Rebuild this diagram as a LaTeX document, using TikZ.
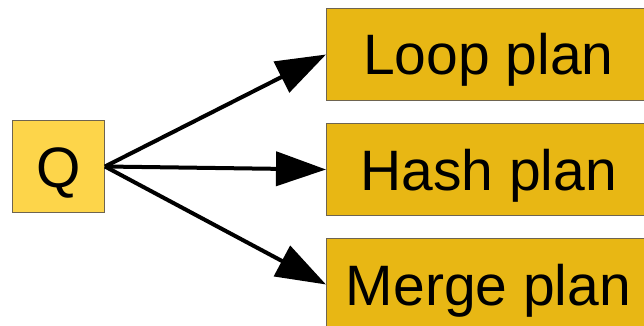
\documentclass[tikz,border=0pt]{standalone}
\usepackage{fontspec}
\setmainfont{Liberation Sans}
\usetikzlibrary{arrows.meta}
\definecolor{qfill}{HTML}{FDD54A}
\definecolor{planfill}{HTML}{E8B714}
\definecolor{boxedge}{HTML}{6E6450}
\tikzset{
  box/.style={draw=boxedge, line width=1pt, inner sep=0pt, anchor=north west,
    text height=41pt, text depth=0pt, font=\fontsize{57}{61}\selectfont},
  query/.style={box, fill=qfill, minimum width=92pt, minimum height=92pt},
  plan/.style={box, fill=planfill, minimum width=324pt, minimum height=92pt},
  link/.style={line width=4pt, -{Triangle[length=50pt,width=34pt]}}
}
\begin{document}
\begin{tikzpicture}[x=1pt,y=-1pt]
  \useasboundingbox (0,0) rectangle (644,326);
  \begin{scope}
    \clip (0,0) rectangle (644,326);
    \node[query] (q) at (12,120) {Q};
    \node[plan] (loop) at (326,8) {Loop plan};
    \node[plan] (hash) at (326,123) {Hash plan};
    \node[plan] (merge) at (326,238) {Merge plan};
    \draw[link] (q.east) -- (loop.west);
    \draw[link] (q.east) -- (hash.west);
    \draw[link] (q.east) -- (merge.west);
  \end{scope}
\end{tikzpicture}
\end{document}
